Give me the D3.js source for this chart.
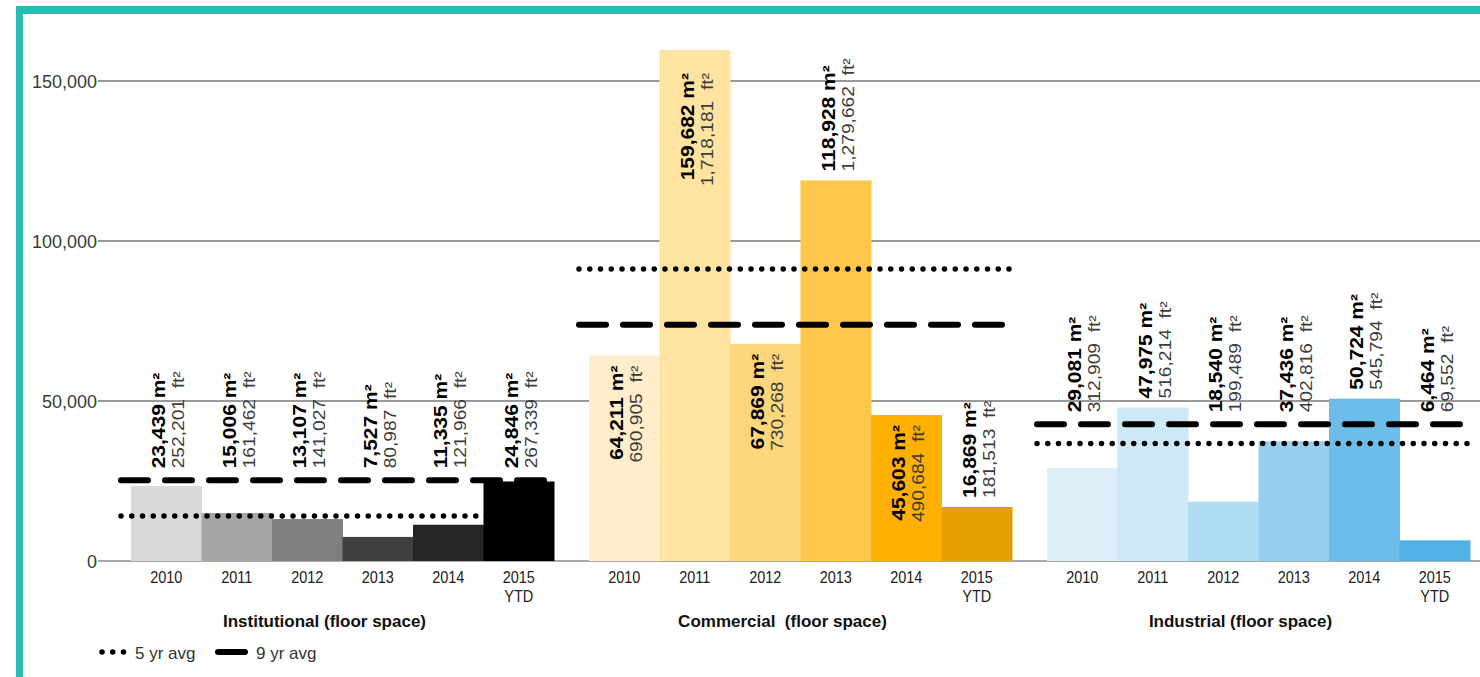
<!DOCTYPE html>
<html>
<head>
<meta charset="utf-8">
<script src="https://cdn.jsdelivr.net/npm/d3@7"></script>
<style>
body { margin: 0; background: #fff; }
text { font-family: "Liberation Sans", Arial, sans-serif; }
</style>
</head>
<body>
<script>
// chart data
var years = ['2010', '2011', '2012', '2013', '2014', '2015'];
var yearLabels = [['2010'], ['2011'], ['2012'], ['2013'], ['2014'], ['2015', 'YTD']];
var categories = ['Institutional (floor space)', 'Commercial  (floor space)', 'Industrial (floor space)'];

var institutionalM2 = [23439, 15006, 13107, 7527, 11335, 24846];
var institutionalFt2 = [252201, 161462, 141027, 80987, 121966, 267339];
var commercialM2 = [64211, 159682, 67869, 118928, 45603, 16869];
var commercialFt2 = [690905, 1718181, 730268, 1279662, 490684, 181513];
var industrialM2 = [29081, 47975, 18540, 37436, 50724, 6464];
var industrialFt2 = [312909, 516214, 199489, 402816, 545794, 69552];

var avg5yr = [14083, 91259, 36751];
var avg9yr = [25200, 73800, 42700];

var yTicks = [0, 50000, 100000, 150000];

var institutionalColors = ['#d9d9d9', '#a6a6a6', '#7f7f7f', '#404040', '#262626', '#000000'];
var commercialColors = ['#ffedcb', '#ffe3a1', '#fed67b', '#fec74c', '#ffb000', '#e59f02'];
var industrialColors = ['#ddeff9', '#cde8f7', '#aedcf3', '#97cfee', '#6cbde9', '#4fb1e4'];

// labels that sit inside the top of their bar
var insideLabels = ['1-2010', '1-2011', '1-2012', '1-2014'];

var groups = [
	{ name: categories[0], m2: institutionalM2, ft2: institutionalFt2, colors: institutionalColors, a5: avg5yr[0], a9: avg9yr[0] },
	{ name: categories[1], m2: commercialM2, ft2: commercialFt2, colors: commercialColors, a5: avg5yr[1], a9: avg9yr[1] },
	{ name: categories[2], m2: industrialM2, ft2: industrialFt2, colors: industrialColors, a5: avg5yr[2], a9: avg9yr[2] }
];

var width = 1480, height = 677;
var fmt = d3.format(',');
var k = 1.2; // vertical stretch of the text

var svg = d3.select('body').append('svg')
	.attr('width', width)
	.attr('height', height);

// teal frame
svg.append('rect').attr('x', 16).attr('y', 6).attr('width', width - 16).attr('height', 8).attr('fill', '#27bcb2');
svg.append('rect').attr('x', 16).attr('y', 6).attr('width', 7).attr('height', height - 6).attr('fill', '#27bcb2');

var y = d3.scaleLinear().domain([0, 160000]).range([561, 49]);

var x0 = d3.scaleBand()
	.domain(d3.range(groups.length))
	.range([113.5, 1487.5])
	.paddingInner(35 / 458)
	.paddingOuter(17.5 / 458);

var x1 = d3.scaleBand()
	.domain(years)
	.range([0, x0.bandwidth()])
	.padding(0);

// grid
var yAxis = d3.axisLeft(y).tickValues(yTicks).tickSize(0).tickPadding(0).tickFormat(fmt);
var gy = svg.append('g').attr('transform', 'translate(97,0)').call(yAxis);
gy.select('.domain').remove();
gy.selectAll('text')
	.attr('x', 0)
	.attr('dy', '0.34em')
	.attr('text-anchor', 'end')
	.attr('font-size', 18)
	.attr('fill', '#3a3a3a');

svg.append('g').selectAll('line')
	.data(yTicks)
	.join('line')
	.attr('x1', 98)
	.attr('x2', width)
	.attr('y1', function(d){ return y(d); })
	.attr('y2', function(d){ return y(d); })
	.attr('stroke', function(d){ return d === 0 ? '#aaaaaa' : '#999999'; })
	.attr('stroke-width', 2);

var g = svg.selectAll('g.group')
	.data(groups)
	.join('g')
	.attr('class', 'group')
	.attr('transform', function(d, i){ return 'translate(' + x0(i) + ',0)'; });

// bars
g.each(function(grp){
	d3.select(this).selectAll('rect')
		.data(grp.m2)
		.join('rect')
		.attr('x', function(d, i){ return x1(years[i]); })
		.attr('y', function(d){ return y(d); })
		.attr('width', x1.bandwidth() + 0.5)
		.attr('height', function(d){ return y(0) - y(d); })
		.attr('fill', function(d, i){ return grp.colors[i]; });
});

// average lines
g.append('line')
	.attr('x1', -10)
	.attr('x2', x0.bandwidth() + 2)
	.attr('y1', function(d){ return y(d.a5); })
	.attr('y2', function(d){ return y(d.a5); })
	.attr('stroke', '#000')
	.attr('stroke-width', 5.5)
	.attr('stroke-linecap', 'round')
	.attr('stroke-dasharray', '0,10.75');

g.append('line')
	.attr('x1', -10)
	.attr('x2', x0.bandwidth() + 2)
	.attr('y1', function(d){ return y(d.a9); })
	.attr('y2', function(d){ return y(d.a9); })
	.attr('stroke', '#000')
	.attr('stroke-width', 6)
	.attr('stroke-linecap', 'round')
	.attr('stroke-dasharray', '27,17');

// value labels
var needed = 118;
g.each(function(grp, gi){
	var lines = [y(grp.a5), y(grp.a9)].sort(function(a, b){ return b - a; });
	var sel = d3.select(this);
	grp.m2.forEach(function(v, i){
		var cx = x1(years[i]) + x1.bandwidth() / 2;
		var top = y(v);
		var inside = insideLabels.indexOf(gi + '-' + years[i]) >= 0;
		var ty, anchor;
		if (inside) {
			ty = Math.max(top + 10, y(150000) - 8);
			anchor = 'end';
		} else {
			var start = top;
			lines.forEach(function(ly){
				if (ly < start && start - ly < needed) start = ly - 3;
			});
			ty = start - 9;
			anchor = 'start';
		}
		sel.append('text')
			.attr('transform', 'translate(' + (cx - 1) + ',' + ty + ') scale(1,' + k + ') rotate(-90)')
			.attr('text-anchor', anchor)
			.attr('font-size', 17.5)
			.attr('font-weight', 'bold')
			.attr('fill', '#000')
			.text(fmt(v) + ' m²');
		sel.append('text')
			.attr('transform', 'translate(' + (cx + 18) + ',' + ty + ') scale(1,' + k + ') rotate(-90)')
			.attr('text-anchor', anchor)
			.attr('font-size', 16)
			.attr('fill', '#3c3c3c')
			.text(fmt(grp.ft2[i]) + '\u00a0 ft²');
	});
});

// year ticks
g.each(function(grp){
	var t = d3.select(this).selectAll('text.year')
		.data(yearLabels)
		.join('text')
		.attr('class', 'year')
		.attr('transform', function(d, i){
			return 'translate(' + (x1(years[i]) + x1.bandwidth() / 2) + ',583) scale(1,1.15)';
		})
		.attr('text-anchor', 'middle')
		.attr('font-size', 14.5)
		.attr('fill', '#222');
	t.selectAll('tspan')
		.data(function(d){ return d; })
		.join('tspan')
		.attr('x', 0)
		.attr('dy', function(d, j){ return j === 0 ? 0 : 16.5; })
		.text(function(d){ return d; });
});

// group titles
g.append('text')
	.attr('x', x0.bandwidth() / 2 - 18)
	.attr('y', 627)
	.attr('text-anchor', 'middle')
	.attr('font-size', 17)
	.attr('font-weight', 'bold')
	.attr('fill', '#111')
	.style('white-space', 'pre')
	.text(function(d){ return d.name; });

// legend
var legend = svg.append('g').attr('transform', 'translate(0,652)');
legend.append('line')
	.attr('x1', 102).attr('x2', 124).attr('y1', 0).attr('y2', 0)
	.attr('stroke', '#000').attr('stroke-width', 5.5)
	.attr('stroke-linecap', 'round').attr('stroke-dasharray', '0,10.75');
legend.append('text')
	.attr('x', 135).attr('y', 6.5)
	.attr('font-size', 17).attr('fill', '#333')
	.text('5 yr avg');
legend.append('line')
	.attr('x1', 218).attr('x2', 245).attr('y1', 0).attr('y2', 0)
	.attr('stroke', '#000').attr('stroke-width', 6)
	.attr('stroke-linecap', 'round');
legend.append('text')
	.attr('x', 256).attr('y', 6.5)
	.attr('font-size', 17).attr('fill', '#333')
	.text('9 yr avg');
</script>
</body>
</html>
